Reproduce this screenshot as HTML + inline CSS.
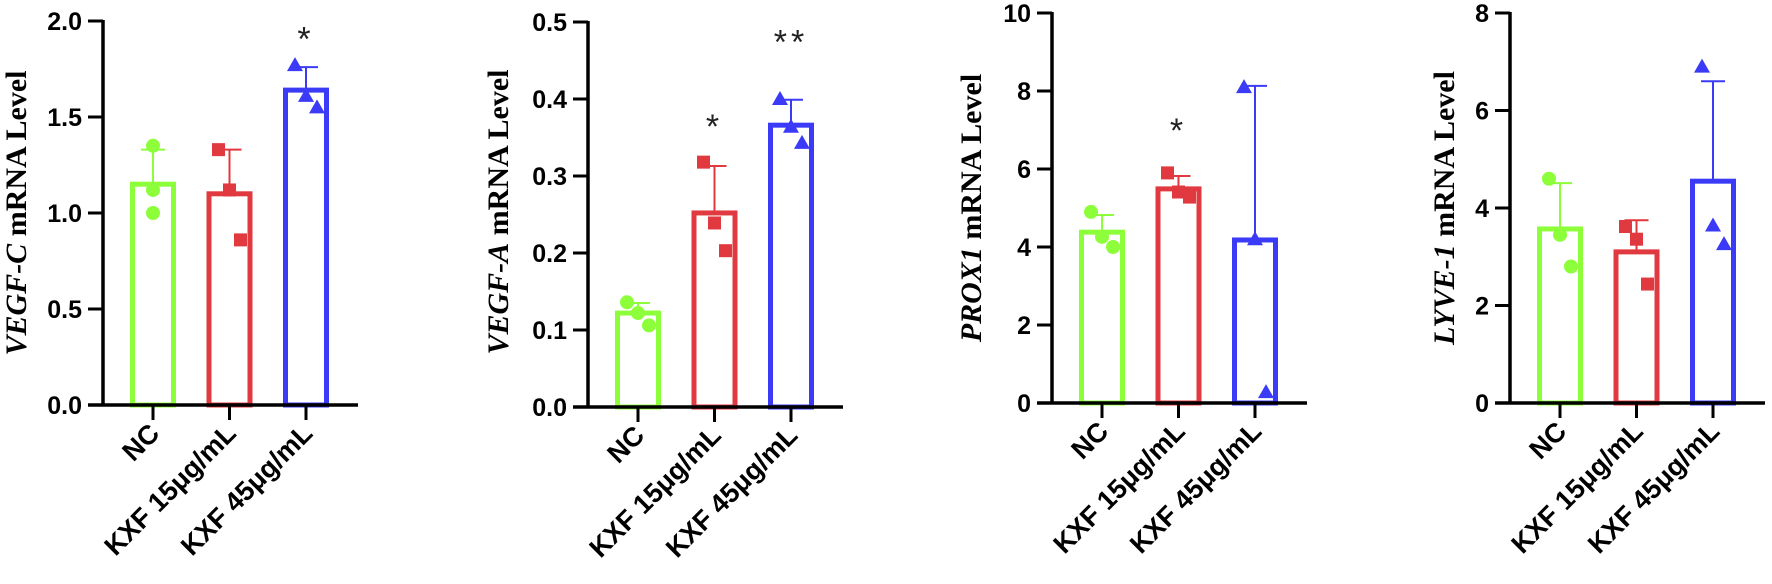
<!DOCTYPE html>
<html><head><meta charset="utf-8"><style>
html,body{margin:0;padding:0;background:#fff;}
svg{display:block;}
</style></head><body>
<svg id="fig" width="1772" height="584" viewBox="0 0 1772 584" xmlns="http://www.w3.org/2000/svg"></svg>
<script>
// ---- data ----
const categories = ["NC", "KXF 15μg/mL", "KXF 45μg/mL"];
const genes = ["VEGF-C", "VEGF-A", "PROX1", "LYVE-1"];
const p1Means = [1.15, 1.10, 1.64];
const p1Err = [1.33, 1.33, 1.76];
const p1Points = [[1.35, 1.12, 1.0], [1.33, 1.12, 0.86], [1.77, 1.61, 1.55]];
const p1Stars = ["", "", "*"];
const p1StarY = [0, 0, 1.93];
const p1Ticks = ["0.0", "0.5", "1.0", "1.5", "2.0"];
const p1TickVals = [0, 0.5, 1.0, 1.5, 2.0];

const p2Means = [0.122, 0.252, 0.366];
const p2Err = [0.135, 0.313, 0.399];
const p2Points = [[0.136, 0.122, 0.106], [0.318, 0.239, 0.203], [0.40, 0.364, 0.343]];
const p2Stars = ["", "*", "**"];
const p2StarY = [0, 0.37, 0.48];
const p2Ticks = ["0.0", "0.1", "0.2", "0.3", "0.4", "0.5"];
const p2TickVals = [0, 0.1, 0.2, 0.3, 0.4, 0.5];

const p3Means = [4.38, 5.49, 4.18];
const p3Err = [4.82, 5.82, 8.13];
const p3Points = [[4.9, 4.26, 4.0], [5.9, 5.41, 5.28], [8.1, 4.2, 0.28]];
const p3Stars = ["", "*", ""];
const p3StarY = [0, 7.1, 0];
const p3Ticks = ["0", "2", "4", "6", "8", "10"];
const p3TickVals = [0, 2, 4, 6, 8, 10];

const p4Means = [3.57, 3.10, 4.55];
const p4Err = [4.51, 3.75, 6.6];
const p4Points = [[4.6, 3.45, 2.8], [3.62, 3.36, 2.44], [6.9, 3.64, 3.26]];
const p4Stars = ["", "", ""];
const p4StarY = [0, 0, 0];
const p4Ticks = ["0", "2", "4", "6", "8"];
const p4TickVals = [0, 2, 4, 6, 8];

// ---- layout ----
const NS = "http://www.w3.org/2000/svg";
const svg = document.getElementById("fig");
const colors = ["#8cff3a", "#e0393f", "#3b3bf7"];
const shapes = ["circle", "square", "triangle"];

const panels = [
  {axisX:103, y0:405, yTop:21, max:2.0, title:"VEGF-C", titleX:15, titleY:213, means:p1Means, err:p1Err, pts:p1Points, stars:p1Stars, starY:p1StarY, ticks:p1Ticks, tickVals:p1TickVals},
  {axisX:588, y0:407, yTop:22, max:0.5, title:"VEGF-A", titleX:497, titleY:212, means:p2Means, err:p2Err, pts:p2Points, stars:p2Stars, starY:p2StarY, ticks:p2Ticks, tickVals:p2TickVals},
  {axisX:1052, y0:403, yTop:13, max:10, title:"PROX1", titleX:970, titleY:208, means:p3Means, err:p3Err, pts:p3Points, stars:p3Stars, starY:p3StarY, ticks:p3Ticks, tickVals:p3TickVals},
  {axisX:1510, y0:403, yTop:13, max:8, title:"LYVE-1", titleX:1443, titleY:208, means:p4Means, err:p4Err, pts:p4Points, stars:p4Stars, starY:p4StarY, ticks:p4Ticks, tickVals:p4TickVals}
];

function mk(tag, attrs, parent){
  const e = document.createElementNS(NS, tag);
  for (const k in attrs) e.setAttribute(k, attrs[k]);
  (parent||svg).appendChild(e);
  return e;
}

panels.forEach((p, pi) => {
  const g = mk("g", {});
  
  
  const ys = v => p.y0 - (v / p.max) * (p.y0 - p.yTop);
  const xs = i => p.axisX + 50 + i * 76.5;

  p.means.forEach((m, i) => {
    const cx = xs(i);
    const r = mk("rect", {x: cx - 20.5, y: ys(m), width: 41, height: p.y0 - ys(m), fill: "none", stroke: colors[i], "stroke-width": 5}, g);
    
    
  });
  p.err.forEach((e, i) => {
    const cx = xs(i);
    const l = mk("line", {x1: cx, x2: cx, y1: ys(p.means[i]), y2: ys(e), stroke: colors[i], "stroke-width": 2}, g);
    
    
    const c = mk("line", {x1: cx - 12, x2: cx + 12, y1: ys(e), y2: ys(e), stroke: colors[i], "stroke-width": 2}, g);
    
    
  });
  p.pts.forEach((arr, i) => {
    arr.forEach((v, j) => {
      const cx = xs(i) + (j - 1) * 11 * (i === 0 && pi === 0 ? 0 : 1);
      const cy = ys(v);
      let el;
      if (shapes[i] === "circle") el = mk("circle", {cx: cx, cy: cy, r: 7, fill: colors[i]}, g);
      else if (shapes[i] === "square") el = mk("rect", {x: cx - 6.5, y: cy - 6.5, width: 13, height: 13, fill: colors[i]}, g);
      else el = mk("polygon", {points: `${cx},${cy-8} ${cx+8},${cy+6} ${cx-8},${cy+6}`, fill: colors[i]}, g);
      
      
    });
  });
  p.stars.forEach((s, i) => {
    if (!s) return;
    const t = mk("text", {x: xs(i), y: ys(p.starY[i]) + 16, "text-anchor": "middle", "font-family": "Liberation Sans, sans-serif", "font-size": 34, fill: "#222", "letter-spacing": 4}, g);
    t.textContent = s;
    
    
  });
  const ya = mk("line", {x1: p.axisX, x2: p.axisX, y1: p.yTop - 1, y2: p.y0 + 1.5, stroke: "#000", "stroke-width": 3.5}, g);
  
  
  const xa = mk("line", {x1: p.axisX - 15, x2: xs(2) + 52, y1: p.y0, y2: p.y0, stroke: "#000", "stroke-width": 3.5}, g);
  
  
  p.tickVals.forEach((v, k) => {
    const y = ys(v);
    mk("line", {x1: p.axisX - 15, x2: p.axisX, y1: y, y2: y, stroke: "#000", "stroke-width": 3}, g);
    const t = mk("text", {x: p.axisX - 21, y: y + 9, "text-anchor": "end", "font-family": "Liberation Sans, sans-serif", "font-weight": "bold", "font-size": 25, fill: "#000"}, g);
    t.textContent = p.ticks[k];
    
    
  });
  categories.forEach((c, i) => {
    const cx = xs(i);
    mk("line", {x1: cx, x2: cx, y1: p.y0, y2: p.y0 + 15, stroke: "#000", "stroke-width": 3}, g);
    const t = mk("text", {x: cx + 8, y: p.y0 + 30, "text-anchor": "end", "font-family": "Liberation Sans, sans-serif", "font-weight": "bold", "font-size": 27, fill: "#000", transform: `rotate(-45 ${cx + 8} ${p.y0 + 30})`}, g);
    t.textContent = c;
    
    
  });
  const tt = mk("text", {x: p.titleX + 11, y: p.titleY, "text-anchor": "middle", "font-family": "Liberation Serif, serif", "font-weight": "bold", "font-size": 30, fill: "#000", transform: `rotate(-90 ${p.titleX + 11} ${p.titleY})`}, g);
  const it = mk("tspan", {"font-style": "italic"}, tt);
  it.textContent = p.title;
  const rest = mk("tspan", {}, tt);
  rest.textContent = " mRNA Level";
  
  
});
</script>
</body></html>
